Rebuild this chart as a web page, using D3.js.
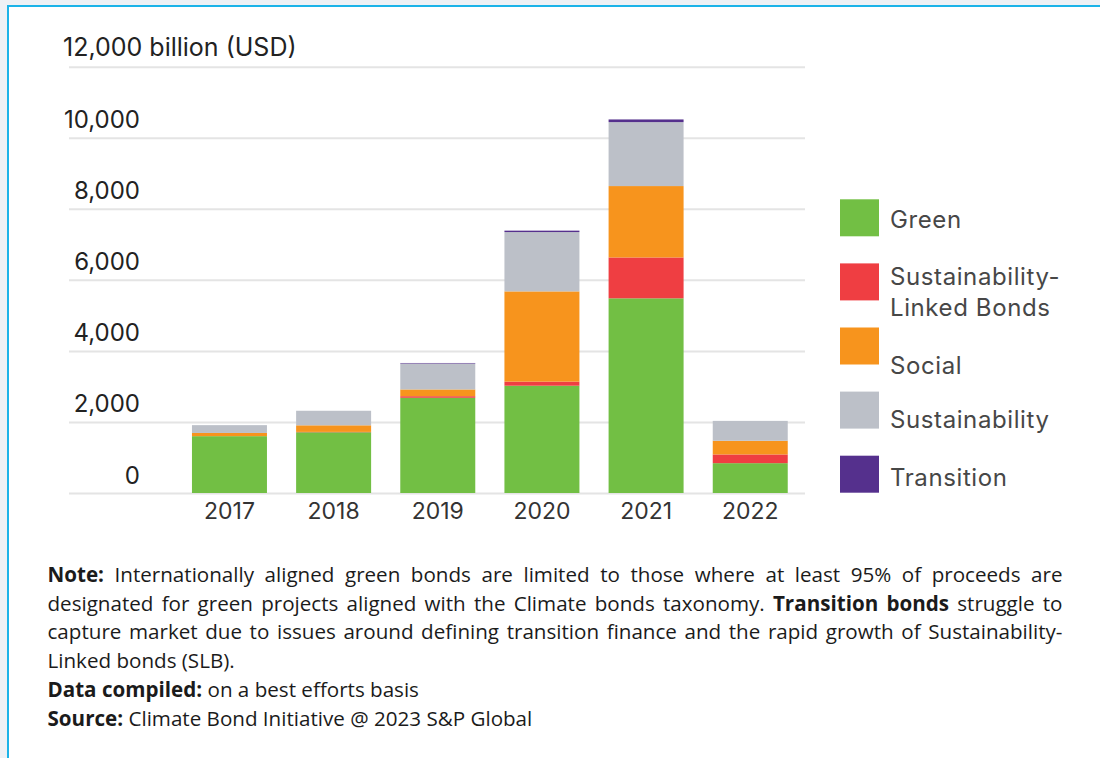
<!DOCTYPE html>
<html>
<head>
<meta charset="utf-8">
<script src="https://cdn.jsdelivr.net/npm/d3@7"></script>
<style>
  html, body { margin: 0; padding: 0; }
  body { width: 1100px; height: 758px; background: #eef1f5; overflow: hidden; position: relative; }
  #frame { position: absolute; left: 7px; top: 5px; width: 1200px; height: 800px; background: #fff;
           border-top: 2px solid #1cb3e8; border-left: 2px solid #1cb3e8; }
  svg { position: absolute; left: 0; top: 0; }
  .note { position: absolute; left: 47.5px; width: 1015px; font-family: "Open Sans", Lato, sans-serif;
          font-size: 20.6px; color: #1b1b1b; white-space: nowrap; }
  .just { text-align: justify; text-align-last: justify; white-space: normal; }
  .note b { font-weight: 700; }
</style>
</head>
<body>
<div id="frame"></div>
<svg id="chart" width="1100" height="758"></svg>
<div id="notes"></div>
<script>
const years = ["2017", "2018", "2019", "2020", "2021", "2022"];
const green = [1600, 1710, 2680, 3020, 5480, 840];
const slb = [0, 10, 45, 115, 1150, 245];
const social = [90, 185, 190, 2540, 2010, 385];
const sustainability = [220, 410, 730, 1670, 1800, 560];
const transition = [0, 0, 15, 40, 75, 0];
const seriesNames = ["Green", "Sustainability-Linked Bonds", "Social", "Sustainability", "Transition"];
const yTicks = [0, 2000, 4000, 6000, 8000, 10000, 12000];
const yUnit = "billion (USD)";

const colors = ["#72bf44", "#ef3e42", "#f7941d", "#bcc0c8", "#55308d"];
const keys = ["green", "slb", "social", "sustainability", "transition"];
const table = years.map((yr, i) => ({ year: yr, green: green[i], slb: slb[i], social: social[i],
  sustainability: sustainability[i], transition: transition[i] }));

const svg = d3.select("#chart");
const fontChart = "Inter, 'Open Sans', sans-serif";

const y = d3.scaleLinear().domain([0, 12000]).range([493, 66.7]);
const x = d3.scaleBand().domain(years).range([150.3, 829.4]).paddingInner(0.28).paddingOuter(0.4);

// y axis with gridlines
const gridLeft = 69, gridRight = 805;
const yAxis = svg.append("g").attr("transform", `translate(${gridLeft},0)`)
  .call(d3.axisLeft(y).tickValues(yTicks).tickSize(-(gridRight - gridLeft))
        .tickFormat(d => d === 12000 ? d3.format(",")(d) + " " + yUnit : d3.format(",")(d)));
yAxis.select(".domain").remove();
yAxis.selectAll(".tick line").attr("stroke", "#e4e4e4").attr("stroke-width", 2);
yAxis.selectAll(".tick text")
  .attr("font-family", fontChart).attr("font-size", d => d === 12000 ? 25 : 24).attr("fill", "#222")
  .attr("dy", null)
  .attr("y", d => d === 12000 ? -11 : -10)
  .attr("x", d => d === 12000 ? -6 : 71)
  .attr("text-anchor", d => d === 12000 ? "start" : "end");

// stacked bars
const stack = d3.stack().keys(keys)(table);
svg.append("g").selectAll("g").data(stack).join("g")
  .attr("fill", (d, i) => colors[i])
  .selectAll("rect").data(d => d).join("rect")
  .attr("x", d => x(d.data.year))
  .attr("width", x.bandwidth())
  .attr("y", d => y(d[1]))
  .attr("height", d => Math.max(0, y(d[0]) - y(d[1])));

// x axis
const xAxis = svg.append("g").attr("transform", `translate(0,${y(0)})`)
  .call(d3.axisBottom(x).tickSize(0));
xAxis.select(".domain").remove();
xAxis.selectAll(".tick text")
  .attr("font-family", fontChart).attr("font-size", 23).attr("fill", "#333")
  .attr("dy", null).attr("y", 26);

// legend
const legY0 = 199.3, legStep = 64.1, legSize = 37;
const legTextY = [[20.7], [12.6, 44.6], [37.5], [28.4], [22.3]];
const legLines = [["Green"], ["Sustainability-", "Linked Bonds"], ["Social"], ["Sustainability"], ["Transition"]];
const leg = svg.append("g").selectAll("g").data(seriesNames).join("g")
  .attr("transform", (d, i) => `translate(840,${legY0 + i * legStep})`);
leg.append("rect").attr("width", 39).attr("height", legSize).attr("fill", (d, i) => colors[i]);
leg.each(function(d, i) {
  const g = d3.select(this);
  legLines[i].forEach((t, j) => {
    g.append("text").attr("x", 50).attr("y", legTextY[i][j]).attr("dominant-baseline", "central")
      .attr("font-family", fontChart).attr("font-size", 24).attr("letter-spacing", 0.6)
      .attr("fill", "#474747").text(t);
  });
});

// notes
const noteLines = [
  { html: "<b>Note:</b> Internationally aligned green bonds are limited to those where at least 95% of proceeds are", just: true },
  { html: "designated for green projects aligned with the Climate bonds taxonomy. <b>Transition bonds</b> struggle to", just: true },
  { html: "capture market due to issues around defining transition finance and the rapid growth of Sustainability-", just: true },
  { html: "Linked bonds (SLB).", just: false },
  { html: "<b>Data compiled:</b> on a best efforts basis", just: false },
  { html: "<b>Source:</b> Climate Bond Initiative @ 2023 S&amp;P Global", just: false }
];
const baseY = 581, lineStep = 28.7;
d3.select("#notes").selectAll("div").data(noteLines).join("div")
  .attr("class", d => d.just ? "note just" : "note")
  .style("top", (d, i) => (baseY + i * lineStep - 20) + "px")
  .style("line-height", "26px")
  .html(d => d.html);
</script>
</body>
</html>
